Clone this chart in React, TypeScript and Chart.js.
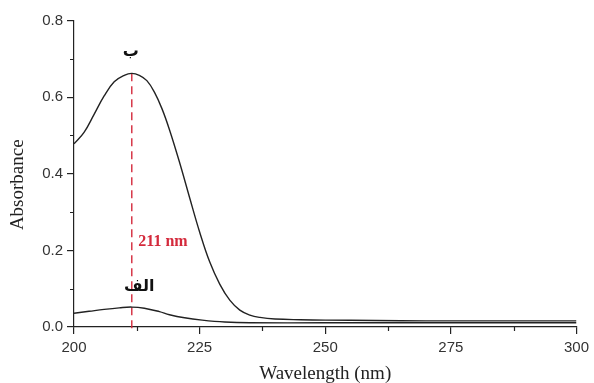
import React, { useEffect, useRef } from 'react';
import { Chart, registerables } from 'chart.js';

Chart.register(...registerables);

// Curve "ب" (upper spectrum)
const wavelengthB = [200, 202, 204, 206, 208, 210, 211.5, 213, 214.5, 216, 217.5, 219, 221, 223, 225, 227, 229, 231, 233, 235, 237, 240, 245, 250, 260, 270, 280, 290, 300];
const absorbanceB = [0.478, 0.508, 0.555, 0.603, 0.64, 0.657, 0.662, 0.657, 0.643, 0.613, 0.57, 0.515, 0.43, 0.338, 0.248, 0.17, 0.112, 0.07, 0.044, 0.031, 0.025, 0.021, 0.019, 0.018, 0.017, 0.016, 0.016, 0.016, 0.016];

// Curve "الف" (lower spectrum)
const wavelengthA = [200, 203, 206, 209, 211.5, 214, 217, 219, 222, 225.5, 230, 235, 250, 275, 300];
const absorbanceA = [0.036, 0.041, 0.046, 0.05, 0.052, 0.049, 0.04, 0.032, 0.024, 0.018, 0.013, 0.011, 0.011, 0.011, 0.011];

// Peak marker
const peakWavelength = 211.5;
const peakAbsorbance = 0.662;
const peakLineBottom = -0.012;

// Axis ticks and titles
const xTicks = [200, 225, 250, 275, 300];
const yTicks = [0, 0.2, 0.4, 0.6, 0.8];
const xMinorTicks = [212.5, 237.5, 262.5, 287.5];
const yMinorTicks = [0.1, 0.3, 0.5, 0.7];
const xTitle = 'Wavelength (nm)';
const yTitle = 'Absorbance';

// Annotations (data coordinates)
const labelTexts = ['ب', 'الف', '211 nm'];
const labelX = [211.3, 213, 212.8];
const labelY = [0.718, 0.104, 0.223];

const SERIF = '"Liberation Serif", "Times New Roman", serif';

const annotationPlugin = {
  id: 'annotations',
  afterDraw(chart: any) {
    const { ctx, scales } = chart;
    const xs = scales.x;
    const ys = scales.y;
    ctx.save();
    ctx.strokeStyle = '#222';
    ctx.lineWidth = 1.2;
    ctx.beginPath();
    xMinorTicks.forEach((v) => {
      const px = Math.round(xs.getPixelForValue(v)) + 0.5;
      ctx.moveTo(px, ys.bottom);
      ctx.lineTo(px, ys.bottom + 4);
    });
    yMinorTicks.forEach((v) => {
      const py = Math.round(ys.getPixelForValue(v)) + 0.5;
      ctx.moveTo(xs.left - 4, py);
      ctx.lineTo(xs.left, py);
    });
    ctx.stroke();

    // y axis title (sits a little below the axis centre)
    ctx.save();
    ctx.translate(18, (ys.top + ys.bottom) / 2 + 11);
    ctx.rotate(-Math.PI / 2);
    ctx.fillStyle = '#222';
    ctx.font = '19px ' + SERIF;
    ctx.textAlign = 'center';
    ctx.textBaseline = 'middle';
    ctx.fillText(yTitle, 0, 0);
    ctx.restore();

    ctx.textBaseline = 'middle';
    labelTexts.forEach((t, i) => {
      const px = xs.getPixelForValue(labelX[i]);
      const py = ys.getPixelForValue(labelY[i]);
      if (i === 2) {
        ctx.fillStyle = '#d42a3c';
        ctx.font = 'bold 16px ' + SERIF;
        ctx.textAlign = 'left';
      } else {
        ctx.fillStyle = '#111';
        ctx.font = 'bold 16px "DejaVu Sans", sans-serif';
        ctx.textAlign = 'center';
      }
      ctx.fillText(t, px, py);
    });
    ctx.restore();
  },
};

export default function App() {
  const canvasRef = useRef<HTMLCanvasElement | null>(null);

  useEffect(() => {
    if (!canvasRef.current) return;
    const tickFont = { family: '"Liberation Sans", Arial, sans-serif', size: 15 };
    const chart = new Chart(canvasRef.current, {
      type: 'line',
      data: {
        datasets: [
          {
            label: 'B',
            data: wavelengthB.map((x, i) => ({ x, y: absorbanceB[i] })),
            borderColor: '#222',
            borderWidth: 1.4,
            pointRadius: 0,
            tension: 0.4,
            fill: false,
          },
          {
            label: 'A',
            data: wavelengthA.map((x, i) => ({ x, y: absorbanceA[i] })),
            borderColor: '#222',
            borderWidth: 1.4,
            pointRadius: 0,
            tension: 0.4,
            fill: false,
          },
          {
            label: 'peak',
            data: [
              { x: peakWavelength, y: peakAbsorbance },
              { x: peakWavelength, y: peakLineBottom },
            ],
            borderColor: '#d42a3c',
            borderWidth: 1.4,
            borderDash: [8, 5],
            pointRadius: 0,
            fill: false,
            clip: false as any,
          },
        ],
      },
      options: {
        animation: false,
        responsive: true,
        maintainAspectRatio: false,
        layout: { padding: { top: 20.5, right: 14, bottom: 0, left: 0 } },
        plugins: { legend: { display: false }, tooltip: { enabled: false } },
        scales: {
          x: {
            type: 'linear',
            min: 200,
            max: 300,
            afterBuildTicks: (s: any) => {
              s.ticks = xTicks.map((v) => ({ value: v }));
            },
            afterFit: (s: any) => {
              s.height = 56;
            },
            ticks: { font: tickFont, color: '#333', padding: 5, maxRotation: 0, autoSkip: false },
            grid: { drawOnChartArea: false, drawTicks: true, tickLength: 7, color: '#222', lineWidth: 1.2 },
            border: { color: '#222', width: 1.2 },
            title: {
              display: true,
              text: xTitle,
              color: '#222',
              font: { family: SERIF, size: 19, lineHeight: 1 },
              padding: { top: 0, bottom: -1 },
            },
          },
          y: {
            type: 'linear',
            min: 0,
            max: 0.8,
            afterBuildTicks: (s: any) => {
              s.ticks = yTicks.map((v) => ({ value: v }));
            },
            afterFit: (s: any) => {
              s.width = 74;
            },
            ticks: {
              font: tickFont,
              color: '#333',
              padding: 4,
              callback: (v: any) => Number(v).toFixed(1),
            },
            grid: { drawOnChartArea: false, drawTicks: true, tickLength: 7, color: '#222', lineWidth: 1.2 },
            border: { color: '#222', width: 1.2 },
            title: { display: false },
          },
        },
      } as any,
      plugins: [annotationPlugin],
    });
    return () => chart.destroy();
  }, []);

  return (
    <div style={{ position: 'fixed', left: 0, top: 0, width: 594, height: 383, background: '#fff' }}>
      <canvas ref={canvasRef} />
    </div>
  );
}
